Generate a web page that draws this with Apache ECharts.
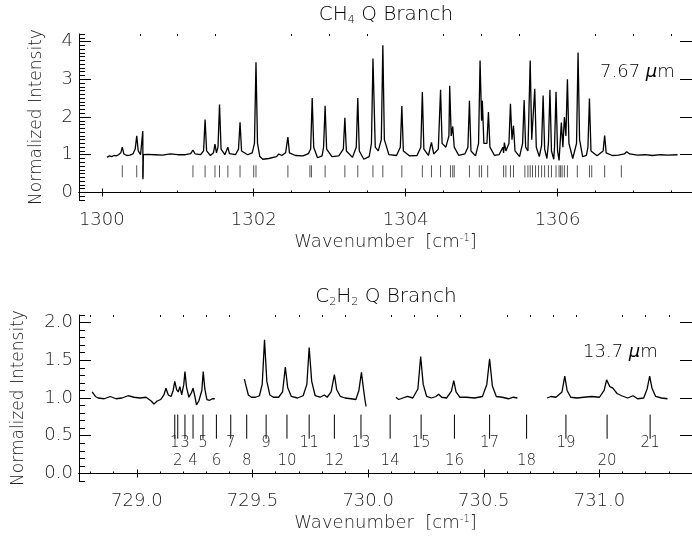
<!DOCTYPE html>
<html>
<head>
<meta charset="utf-8">
<script src="https://cdn.jsdelivr.net/npm/echarts@6/dist/echarts.min.js"></script>
<style>
html,body{margin:0;padding:0;background:#fff;}
#chart{width:692px;height:542px;}
</style>
</head>
<body>
<div id="chart"></div>
<script>
// ---------- CH4 spectrum (top panel) ----------
const ch4X = [1300.07,1300.10,1300.13,1300.16,1300.19,1300.22,1300.25,1300.27,1300.29,1300.33,1300.37,1300.41,1300.44,1300.46,1300.48,1300.51,1300.535,1300.54,1300.542,1300.548,
1300.6,1300.7,1300.8,1300.9,1301.0,1301.1,1301.17,1301.2,1301.23,1301.3,1301.34,1301.36,1301.38,1301.43,1301.47,1301.49,1301.51,1301.53,1301.55,1301.57,
1301.62,1301.64,1301.66,1301.68,1301.76,1301.8,1301.82,1301.84,1301.92,1301.98,1302.01,1302.03,1302.05,1302.08,1302.12,1302.2,1302.3,1302.33,1302.37,1302.42,
1302.45,1302.47,1302.55,1302.65,1302.72,1302.75,1302.77,1302.79,1302.84,1302.9,1302.92,1302.94,1302.96,1303.03,1303.12,1303.18,1303.2,1303.22,1303.3,1303.35,
1303.37,1303.39,1303.45,1303.52,1303.55,1303.57,1303.6,1303.64,1303.68,1303.70,1303.72,1303.78,1303.88,1303.93,1303.95,1303.97,1304.05,1304.15,1304.2,1304.22,
1304.24,1304.3,1304.34,1304.37,1304.43,1304.46,1304.48,1304.53,1304.57,1304.58,1304.6,1304.62,1304.64,1304.7,1304.78,1304.82,1304.84,1304.86,1304.92,1304.96,
1304.98,1305.0,1305.01,1305.03,1305.07,1305.09,1305.11,1305.17,1305.23,1305.28,1305.29,1305.3,1305.32,1305.36,1305.38,1305.4,1305.42,1305.44,1305.5,1305.54,
1305.56,1305.58,1305.61,1305.64,1305.66,1305.7,1305.72,1305.76,1305.79,1305.81,1305.83,1305.86,1305.88,1305.9,1305.92,1305.95,1305.96,1305.98,1306.0,1306.02,
1306.05,1306.07,1306.09,1306.11,1306.13,1306.15,1306.2,1306.25,1306.27,1306.29,1306.33,1306.38,1306.4,1306.42,1306.44,1306.52,1306.6,1306.62,1306.64,1306.72,
1306.8,1306.88,1306.91,1306.95,1307.05,1307.15,1307.25,1307.35,1307.45,1307.58];
const ch4Y = [0.93,0.97,0.95,0.98,0.97,1.0,1.05,1.2,1.02,0.98,0.99,1.02,1.15,1.5,1.1,1.0,1.05,1.63,0.35,1.0,
1.01,1.0,0.99,1.02,1.0,1.0,1.03,1.12,1.02,1.0,1.1,1.93,1.1,0.98,1.05,1.28,1.05,1.2,2.33,1.15,
1.0,1.05,1.2,1.03,1.0,1.15,1.86,1.1,1.0,1.05,1.3,3.45,1.3,0.95,0.88,0.9,0.95,1.02,0.98,1.05,
1.47,1.05,0.98,0.97,1.03,1.15,2.5,1.2,0.92,0.97,1.2,2.3,1.15,0.95,0.97,1.15,1.98,1.1,0.93,1.2,
2.5,1.1,0.88,0.95,1.3,3.55,1.2,1.1,1.4,3.9,1.4,1.0,0.98,1.2,2.29,1.1,0.97,0.98,1.2,2.66,
1.15,0.98,1.33,1.02,1.15,2.72,1.3,1.2,1.5,2.83,1.5,1.75,1.2,0.98,1.02,1.2,2.43,1.1,0.97,1.3,
3.5,1.9,2.43,1.3,1.3,2.13,1.2,0.98,1.0,1.2,1.05,1.32,1.1,1.3,2.35,1.4,1.77,1.1,0.95,1.3,
2.45,1.2,1.1,3.5,1.4,2.75,1.2,0.95,1.25,2.57,1.15,0.9,1.3,2.72,1.1,0.88,1.2,2.67,1.1,0.85,
1.85,1.2,2.0,1.5,3.0,1.3,0.9,1.3,3.71,1.4,0.95,0.98,1.2,2.49,1.1,0.97,1.1,1.51,1.05,0.98,
0.99,1.02,1.08,1.02,0.99,1.0,0.98,1.0,0.99,1.0];
// CH4 line positions (short marks)
const ch4Lines = [1300.27,1300.46,1300.54,1301.2,1301.36,1301.49,1301.55,1301.66,1301.82,1302.0,1302.03,1302.45,1302.74,1302.76,1302.94,1303.2,1303.37,1303.57,1303.7,1303.95,
1304.22,1304.34,1304.46,1304.59,1304.62,1304.64,1304.84,1304.97,1305.0,1305.08,1305.29,1305.32,1305.38,1305.42,1305.57,1305.61,1305.64,1305.67,1305.71,1305.75,
1305.79,1305.83,1305.88,1305.92,1305.98,1306.02,1306.04,1306.06,1306.09,1306.13,1306.26,1306.42,1306.45,1306.62,1306.84];

// ---------- C2H2 spectrum (bottom panel), null = gap ----------
const c2h2X = [728.807,728.821,728.833,728.859,728.885,728.91,728.936,728.962,728.988,729.014,729.04,729.062,729.074,729.088,729.103,729.117,729.126,729.136,729.148,729.157,
729.164,729.172,729.179,729.186,729.194,729.203,729.208,729.215,729.225,729.236,729.243,729.251,729.258,729.268,729.281,729.287,729.294,729.303,729.315,729.327,729.337,
729.40,
729.465,729.472,729.482,729.496,729.513,729.53,729.542,729.552,729.562,729.575,729.59,729.613,729.63,729.642,729.652,729.668,729.694,729.719,729.735,729.745,
729.756,729.771,729.792,729.811,729.823,729.84,729.854,729.864,729.88,729.9,729.926,729.947,729.96,729.971,729.979,729.986,729.991,
730.05,
730.12,730.132,730.15,730.17,730.193,730.215,730.227,730.238,730.253,730.274,730.293,730.305,730.318,730.339,730.36,730.37,730.38,730.396,730.425,730.46,
730.494,730.513,730.525,730.537,730.554,730.58,730.606,730.628,730.645,
730.70,
730.773,730.79,730.812,730.838,730.85,730.86,730.876,730.903,730.932,730.966,731.0,731.02,731.031,731.045,731.058,731.076,731.096,731.122,731.145,731.165,
731.191,731.206,731.217,731.227,731.243,731.268,731.294];
const c2h2Y = [1.08,1.02,1.0,0.99,1.02,0.99,1.0,1.03,1.01,1.0,1.01,0.96,0.92,0.96,0.98,1.04,1.13,1.04,1.02,1.1,
1.22,1.11,1.08,1.15,1.04,1.18,1.35,1.14,1.01,1.07,1.13,1.02,0.91,0.96,1.1,1.35,1.12,0.98,0.97,0.99,0.99,
null,
1.25,1.16,1.04,1.01,1.01,1.03,1.18,1.77,1.22,1.04,1.01,1.01,1.08,1.41,1.14,1.02,1.0,1.03,1.18,1.67,
1.22,1.03,1.01,1.04,1.01,1.08,1.31,1.11,1.02,1.0,0.99,0.98,1.1,1.34,1.14,0.98,0.89,
null,
1.01,0.98,1.0,1.02,1.0,1.12,1.55,1.18,1.02,1.0,1.02,1.05,1.01,1.0,1.09,1.23,1.08,1.01,1.01,1.0,
1.02,1.18,1.52,1.16,1.02,1.01,0.99,1.01,1.0,
null,
1.0,1.02,1.01,1.08,1.29,1.1,1.01,1.0,1.01,1.02,1.01,1.1,1.24,1.15,1.13,1.06,1.03,1.0,1.03,0.99,
1.0,1.12,1.29,1.13,1.02,1.0,0.99];
// C2H2 Q-branch line positions, J = 1..21
const c2h2Lines = [729.164,729.177,729.208,729.243,729.286,729.344,729.406,729.475,729.559,729.649,729.745,729.854,729.969,730.095,730.229,730.373,730.525,730.685,730.855,731.033,731.219];
const c2h2J = ['1','2','3','4','5','6','7','8','9','10','11','12','13','14','15','16','17','18','19','20','21'];

// ---------- Axis ticks ----------
const topXMajor = [1300,1302,1304,1306];
const topXMinor = [1300.5,1301,1301.5,1302.5,1303,1303.5,1304.5,1305,1305.5,1306.5,1307,1307.5];
const topYMajor = [0,1,2,3,4];
const botXMajor = [729.0,729.5,730.0,730.5,731.0];
const botYMajor = [0.0,0.5,1.0,1.5,2.0];

function minorBetween(lo, hi, step, majors){
  const out=[]; const n=Math.round((hi-lo)/step);
  for(let i=0;i<=n;i++){const v=+(lo+i*step).toFixed(3); if(!majors.some(m=>Math.abs(m-v)<1e-6)) out.push(v);} return out;
}
const botXMinor = minorBetween(728.8, 731.4, 0.1, botXMajor);
const topYMinor = minorBetween(-0.2, 4.2, 0.1, topYMajor);
const botYMinor = minorBetween(-0.1, 2.1, 0.1, botYMajor);

const FONT = '"DejaVu Sans", sans-serif';
const FW = 200;
const TXT = '#222';
const chart = echarts.init(document.getElementById('chart'), null, {renderer:'canvas'});

function xAxes(grid, min, max, major, minor, fmt){
  const base = {type:'value', gridIndex:grid, min:min, max:max, splitLine:{show:false}};
  return [
    Object.assign({}, base, {position:'bottom',
      axisLine:{show:true, lineStyle:{color:'#000', width:1}},
      axisTick:{show:true, inside:true, length:4, customValues:major, lineStyle:{color:'#000'}},
      axisLabel:{show:true, customValues:major, formatter:fmt, color:TXT, fontFamily:FONT, fontWeight:FW, fontSize:18, margin:11},
      name:'Wavenumber  [cm{sup|-1}]', nameLocation:'middle', nameGap:33,
      nameTextStyle:{color:TXT, fontFamily:FONT, fontWeight:FW, fontSize:18, rich:{sup:{fontSize:10, fontWeight:FW, verticalAlign:'top', padding:[0,0,9,0], color:TXT, fontFamily:FONT}}}
    }),
    Object.assign({}, base, {position:'bottom', axisLine:{show:false},
      axisTick:{show:true, inside:true, length:2, customValues:minor, lineStyle:{color:'#000'}}, axisLabel:{show:false}}),
    Object.assign({}, base, {position:'top', axisLine:{show:true, lineStyle:{color:'#000', width:1}},
      axisTick:{show:true, inside:true, length:4, customValues:major, lineStyle:{color:'#000'}}, axisLabel:{show:false}}),
    Object.assign({}, base, {position:'top', axisLine:{show:false},
      axisTick:{show:true, inside:true, length:2, customValues:minor, lineStyle:{color:'#000'}}, axisLabel:{show:false}})
  ];
}
function yAxes(grid, min, max, major, minor, fmt, nameGap){
  const base = {type:'value', gridIndex:grid, min:min, max:max, splitLine:{show:false}};
  return [
    Object.assign({}, base, {position:'left',
      axisLine:{show:true, lineStyle:{color:'#000', width:1}},
      axisTick:{show:true, inside:true, length:12, customValues:major, lineStyle:{color:'#000'}},
      axisLabel:{show:true, customValues:major, formatter:fmt, color:TXT, fontFamily:FONT, fontWeight:FW, fontSize:18, margin:6},
      name:'Normalized Intensity', nameLocation:'middle', nameGap:nameGap, nameRotate:90,
      nameTextStyle:{color:TXT, fontFamily:FONT, fontWeight:FW, fontSize:17}
    }),
    Object.assign({}, base, {position:'left', axisLine:{show:false},
      axisTick:{show:true, inside:true, length:6, customValues:minor, lineStyle:{color:'#000'}}, axisLabel:{show:false}}),
    Object.assign({}, base, {position:'right', axisLine:{show:true, lineStyle:{color:'#000', width:1}},
      axisTick:{show:true, inside:true, length:12, customValues:major, lineStyle:{color:'#000'}}, axisLabel:{show:false}})
  ];
}

const GRID_W = 619;
const option = {
  animation:false,
  backgroundColor:'#fff',
  grid:[
    {left:79, top:34, width:GRID_W, height:166},
    {left:79, top:315, width:GRID_W, height:166}
  ],
  xAxis: [].concat(
    xAxes(0, 1299.7, 1307.77, topXMajor, topXMinor, v=>String(Math.round(v))),
    xAxes(1, 728.75, 731.40, botXMajor, botXMinor, v=>v.toFixed(1))
  ),
  yAxis: [].concat(
    yAxes(0, -0.2, 4.2, topYMajor, topYMinor, v=>String(Math.round(v)), 34),
    yAxes(1, -0.1, 2.1, botYMajor, botYMinor, v=>v.toFixed(1), 52)
  ),
  graphic:[
    {type:'text', x:386, y:15, style:{text:'{a|CH}{s|4}{a| Q Branch}', align:'center', verticalAlign:'middle',
      rich:{a:{fontFamily:FONT, fontWeight:FW, fontSize:20, color:TXT}, s:{fontFamily:FONT, fontWeight:FW, fontSize:11, color:TXT, padding:[11,0,0,0]}}}},
    {type:'text', x:386, y:297, style:{text:'{a|C}{s|2}{a|H}{s|2}{a| Q Branch}', align:'center', verticalAlign:'middle',
      rich:{a:{fontFamily:FONT, fontWeight:FW, fontSize:20, color:TXT}, s:{fontFamily:FONT, fontWeight:FW, fontSize:11, color:TXT, padding:[11,0,0,0]}}}},
    {type:'text', x:600, y:72, style:{text:'{a|7.67 }{i|μ}{a|m}', verticalAlign:'middle',
      rich:{a:{fontFamily:FONT, fontWeight:FW, fontSize:18, color:TXT}, i:{fontFamily:FONT, fontWeight:FW, fontSize:18, fontStyle:'italic', color:TXT}}}},
    {type:'text', x:583, y:352, style:{text:'{a|13.7 }{i|μ}{a|m}', verticalAlign:'middle',
      rich:{a:{fontFamily:FONT, fontWeight:FW, fontSize:18, color:TXT}, i:{fontFamily:FONT, fontWeight:FW, fontSize:18, fontStyle:'italic', color:TXT}}}}
  ],
  series:[
    {type:'custom', xAxisIndex:0, yAxisIndex:0, silent:true,
      data: ch4Lines.map(x=>[x, 0.56]), encode:{x:0, y:1},
      renderItem:(params, api)=>{
        const x=api.value(0); const a=api.coord([x,0.40]); const b=api.coord([x,0.72]);
        return {type:'line', shape:{x1:a[0],y1:a[1],x2:b[0],y2:b[1]}, style:{stroke:'#555', lineWidth:1}};
      }},
    {type:'line', xAxisIndex:0, yAxisIndex:0, showSymbol:false, symbol:'none', silent:true,
      data: ch4X.map((x,i)=>[x, ch4Y[i]]), lineStyle:{color:'#000', width:1.3}},
    {type:'custom', xAxisIndex:4, yAxisIndex:3, silent:true,
      data: c2h2Lines.map((x,i)=>[x, 0.6, i]), encode:{x:0, y:1},
      renderItem:(params, api)=>{
        const x=api.value(0); const i=params.dataIndex;
        const a=api.coord([x,0.46]); const b=api.coord([x,0.78]);
        const odd = (i%2===0);
        const t=api.coord([x, odd?0.40:0.17]);
        return {type:'group', children:[
          {type:'line', shape:{x1:a[0],y1:a[1],x2:b[0],y2:b[1]}, style:{stroke:'#000', lineWidth:1}},
          {type:'text', x:t[0], y:t[1], style:{text:c2h2J[i], align:'center', verticalAlign:'middle', fontFamily:FONT, fontWeight:FW, fontSize:15, fill:TXT}}
        ]};
      }},
    {type:'line', xAxisIndex:4, yAxisIndex:3, showSymbol:false, symbol:'none', silent:true, connectNulls:false,
      data: c2h2X.map((x,i)=>[x, c2h2Y[i]]), lineStyle:{color:'#000', width:1.3}}
  ]
};
chart.setOption(option);
</script>
</body>
</html>
